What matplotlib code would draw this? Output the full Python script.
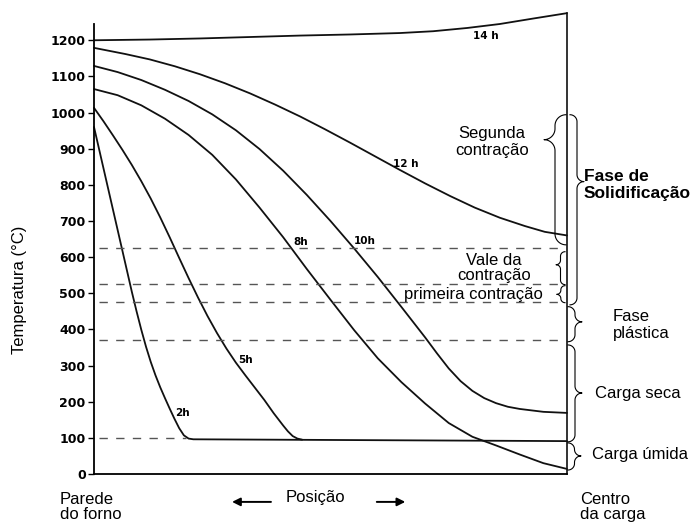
import numpy as np
import matplotlib
matplotlib.use("Agg")
import matplotlib.pyplot as plt
from matplotlib.lines import Line2D

# Temperature profiles across the charge, 0 = furnace wall, 1 = charge centre
pos_2h = [0, .02, .04, .06, .08, .09, .10, .11, .12, .13, .14, .15, .16, .17, .18, .19, .20, .21, 1.0]
temp_2h = [960, 846, 732, 618, 504, 450, 399, 352, 310, 273, 240, 210, 181, 153, 127, 107, 98, 96, 91]

pos_5h = [0, .02, .04, .06, .08, .10, .12, .14, .16, .18, .20, .22, .24, .26, .28, .30,
          .32, .34, .36, .38, .40, .41, .42, .43, .44]
temp_5h = [1013, 976, 937, 897, 855, 810, 762, 710, 655, 598, 542, 488, 437, 390, 347, 308,
           273, 239, 205, 168, 134, 118, 105, 98, 95]

pos_8h = [0, .05, .10, .15, .20, .25, .30, .35, .40, .45, .50, .55, .60, .65, .70, .75,
          .80, .85, .90, .95, 1.0]
temp_8h = [1065, 1048, 1020, 983, 938, 883, 815, 737, 655, 567, 482, 398, 320, 254, 195, 141,
           103, 79, 54, 30, 14]

pos_10h = [0, .05, .10, .15, .20, .25, .30, .35, .40, .45, .50, .55, .60, .65, .70, .725,
           .75, .775, .80, .825, .85, .875, .90, .95, 1.0]
temp_10h = [1129, 1112, 1090, 1063, 1032, 995, 951, 899, 839, 772, 700, 624, 545, 462, 378, 334,
            292, 257, 230, 210, 196, 186, 180, 172, 169]

pos_12h = [0, .066, .118, .171, .224, .277, .330, .383, .436, .488, .541, .594, .647, .700,
           .753, .805, .858, .911, .953, 1.0]
temp_12h = [1179, 1162, 1147, 1128, 1106, 1081, 1053, 1022, 989, 954, 917, 879, 841, 804,
            769, 737, 709, 686, 670, 660]

pos_14h = [0, .118, .224, .330, .436, .541, .647, .717, .789, .858, .928, 1.0]
temp_14h = [1200, 1202, 1205, 1209, 1213, 1216, 1220, 1225, 1234, 1245, 1260, 1275]

curve_names = ["2h", "5h", "8h", "10h", "12 h", "14 h"]
label_pos = [.186, .321, .438, .573, .660, .828]
label_temp = [169, 316, 643, 645, 859, 1211]

# Phase limits (°C)
phase_levels = [625, 525, 475, 370]
wet_level = 100
wet_end = .195

y_ticks = list(range(0, 1300, 100))

# Braces on the right: (top, bottom, tip) in °C
brace_segunda = (994, 634, 925)
brace_vale = (615, 524, 579)
brace_primeira = (521, 474, 497)
brace_solid = (994, 468, 809)
brace_plastica = (463, 366, 421)
brace_seca = (357, 89, 224)
brace_umida = (86, 11, 50)

plt.rcParams['font.family'] = ['Liberation Sans', 'DejaVu Sans']

fig = plt.figure(figsize=(6.97, 5.23), dpi=100)
ax = fig.add_axes([94 / 697, 1 - 474 / 523, 473 / 697, 450 / 523])
ax.set_xlim(0, 1)
ax.set_ylim(0, 1245)

line_kw = dict(color="#111111", lw=1.3, solid_capstyle="round", solid_joinstyle="round",
               clip_on=False)
for xs, ys in [(pos_2h, temp_2h), (pos_5h, temp_5h), (pos_8h, temp_8h),
               (pos_10h, temp_10h), (pos_12h, temp_12h), (pos_14h, temp_14h)]:
    ax.plot(xs, ys, **line_kw)

dash_kw = dict(color="#555555", lw=1.0, linestyle=(0, (6, 6)))
for lvl in phase_levels:
    ax.plot([0.01, 0.995], [lvl, lvl], **dash_kw)
ax.plot([0.01, wet_end], [wet_level, wet_level], **dash_kw)

# right-hand boundary (charge centre)
ax.plot([1, 1], [0, temp_14h[-1]], color="#111111", lw=1.2, clip_on=False)

for name, x, t in zip(curve_names, label_pos, label_temp):
    ax.text(x, t, name, fontsize=7.5, fontweight="bold", family="DejaVu Sans",
            ha="center", va="center")

ax.spines["top"].set_visible(False)
ax.spines["right"].set_visible(False)
ax.spines["left"].set_linewidth(1.3)
ax.spines["bottom"].set_linewidth(1.3)
ax.set_xticks([])
ax.set_yticks(y_ticks)
ax.set_yticklabels([str(v) for v in y_ticks], fontsize=9, fontweight="bold", family="DejaVu Sans")
ax.tick_params(axis="y", direction="out", length=4, width=1, pad=2)

ax.set_ylabel("Temperatura (°C)", fontsize=12)
ax.yaxis.set_label_coords(-0.142, 0.409)

# bottom captions
ax.text(-0.072, -0.073, "Parede\ndo forno", transform=ax.transAxes, fontsize=12,
        ha="left", va="center", linespacing=1.05)
ax.text(1.027, -0.073, "Centro\nda carga", transform=ax.transAxes, fontsize=12,
        ha="left", va="center", linespacing=1.05)
ax.text(0.469, -0.053, "Posição", transform=ax.transAxes, fontsize=12, ha="center", va="center")
arrow_kw = dict(arrowstyle="-|>", color="black", lw=1.4, mutation_scale=12)
ax.annotate("", xy=(0.286, -0.062), xytext=(0.380, -0.062), xycoords="axes fraction",
            arrowprops=arrow_kw)
ax.annotate("", xy=(0.664, -0.062), xytext=(0.592, -0.062), xycoords="axes fraction",
            arrowprops=arrow_kw)


def brace(ax, spec, x_px, width_px, side):
    t_top, t_bot, t_tip = spec
    fig = ax.figure
    x0 = ax.transAxes.transform((1, 0))[0] + x_px
    ya = ax.transData.transform((0, t_top))[1]
    yb = ax.transData.transform((0, t_bot))[1]
    yt = ax.transData.transform((0, t_tip))[1]
    r = min(width_px / 2, (ya - yt) / 2, (yt - yb) / 2)

    def arc(cx, cy, a0, a1):
        a = np.radians(np.linspace(a0, a1, 20))
        return cx + r * np.cos(a), cy + r * np.sin(a)

    parts = [arc(0, ya - r, 90, 0),
             (np.array([r, r]), np.array([ya - r, yt + r])),
             arc(2 * r, yt + r, 180, 270),
             arc(2 * r, yt - r, 90, 180),
             (np.array([r, r]), np.array([yt - r, yb + r])),
             arc(0, yb + r, 0, -90)]
    xs = np.concatenate([p[0] for p in parts])
    ys = np.concatenate([p[1] for p in parts])
    sgn = 1 if side == "right" else -1
    pts = fig.transFigure.inverted().transform(np.column_stack([x0 + sgn * xs, ys]))
    fig.add_artist(Line2D(pts[:, 0], pts[:, 1], color="black", lw=0.8))


brace(ax, brace_segunda, -1, 22, "left")
brace(ax, brace_vale, -2, 9, "left")
brace(ax, brace_primeira, -2, 9, "left")
brace(ax, brace_solid, 3, 14, "right")
brace(ax, brace_plastica, 1, 14, "right")
brace(ax, brace_seca, 1, 14, "right")
brace(ax, brace_umida, 1, 14, "right")

yt = ax.get_yaxis_transform()
ax.text(0.841, 918, "Segunda\ncontração", transform=yt, fontsize=12, ha="center", va="center",
        linespacing=1.15)
ax.text(0.846, 570, "Vale da\ncontração", transform=yt, fontsize=12, ha="center", va="center",
        linespacing=0.95)
ax.text(0.949, 498, "primeira contração", transform=yt, fontsize=12, ha="right", va="center")
ax.text(1.035, 800, "Fase de\nSolidificação", transform=yt, fontsize=12.5, fontweight="bold",
        ha="left", va="center", linespacing=1.15)
ax.text(1.097, 412, "Fase\nplástica", transform=yt, fontsize=12, ha="left", va="center",
        linespacing=1.15)
ax.text(1.059, 224, "Carga seca", transform=yt, fontsize=12, ha="left", va="center")
ax.text(1.053, 53, "Carga úmida", transform=yt, fontsize=12, ha="left", va="center")

fig.savefig("out.png", dpi=100)
